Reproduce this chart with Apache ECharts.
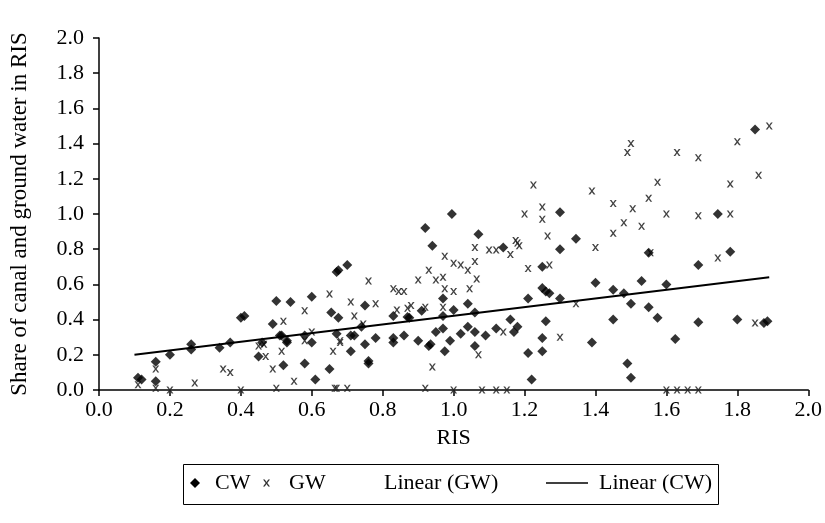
<!DOCTYPE html>
<html>
<head>
<meta charset="utf-8">
<script src="https://cdn.jsdelivr.net/npm/echarts@6/dist/echarts.min.js"></script>
<style>html,body{margin:0;padding:0;background:#fff}#c{width:825px;height:523px}</style>
</head>
<body>
<div id="c"></div>
<script>
// Tick labels
const xTicks = ['0.0','0.2','0.4','0.6','0.8','1.0','1.2','1.4','1.6','1.8','2.0'];
const yTicks = ['0.0','0.2','0.4','0.6','0.8','1.0','1.2','1.4','1.6','1.8','2.0'];

// CW (canal water) points: RIS and share
const cwX = [0.11,0.12,0.16,0.16,0.20,0.26,0.26,0.34,0.37,0.40,0.41,0.45,0.46,0.49,0.50,0.54,0.51,0.52,0.53,0.58,0.60,0.58,0.60,0.61,0.65,0.655,0.67,0.675,0.675,0.67,0.70,0.71,0.72,0.71,0.75,0.75,0.76,0.76,0.78,0.74,0.83,0.87,0.875,0.83,0.83,0.86,0.90,0.93,0.935,0.91,0.92,0.94,0.995,0.95,0.97,0.97,0.97,0.975,0.99,1.00,1.02,1.04,1.04,1.06,1.06,1.06,1.07,1.09,1.12,1.14,1.16,1.17,1.18,1.21,1.21,1.22,1.25,1.25,1.25,1.26,1.27,1.25,1.26,1.30,1.30,1.30,1.345,1.40,1.39,1.45,1.45,1.48,1.49,1.50,1.50,1.53,1.55,1.55,1.575,1.60,1.625,1.69,1.69,1.745,1.78,1.80,1.875,1.885,1.85,0.515,0.53];
const cwY = [0.07,0.06,0.16,0.05,0.20,0.26,0.23,0.24,0.27,0.41,0.42,0.19,0.27,0.375,0.505,0.50,0.31,0.14,0.27,0.15,0.53,0.31,0.27,0.06,0.12,0.44,0.67,0.68,0.41,0.32,0.71,0.31,0.31,0.22,0.26,0.48,0.165,0.15,0.295,0.36,0.42,0.415,0.41,0.295,0.27,0.31,0.28,0.25,0.26,0.45,0.92,0.82,1.00,0.33,0.35,0.52,0.42,0.22,0.28,0.455,0.32,0.36,0.49,0.25,0.33,0.44,0.885,0.31,0.35,0.81,0.40,0.33,0.36,0.52,0.21,0.06,0.295,0.22,0.58,0.56,0.55,0.70,0.39,0.80,1.01,0.52,0.86,0.61,0.27,0.57,0.40,0.55,0.15,0.07,0.49,0.62,0.47,0.78,0.41,0.60,0.29,0.71,0.385,1.00,0.785,0.40,0.38,0.39,1.48,0.31,0.28];

// GW (ground water) points: RIS and share
const gwX = [0.11,0.16,0.16,0.20,0.27,0.35,0.37,0.40,0.45,0.465,0.47,0.49,0.52,0.515,0.50,0.55,0.58,0.58,0.65,0.66,0.68,0.67,0.60,0.72,0.71,0.76,0.78,0.745,0.68,0.83,0.845,0.86,0.88,0.87,0.84,0.92,0.90,0.95,0.97,0.93,0.975,1.00,1.02,1.04,1.06,1.065,1.045,0.975,1.00,0.97,1.06,1.10,1.12,1.16,1.18,1.20,1.25,1.25,1.265,1.21,1.27,1.345,1.30,1.14,1.07,0.94,0.665,0.70,0.92,1.00,1.225,1.39,1.45,1.48,1.45,1.40,1.49,1.175,1.185,1.50,1.63,1.69,1.80,1.89,1.575,1.55,1.505,1.53,1.60,1.69,1.78,1.555,1.745,1.85,1.86,1.78,1.08,1.12,1.15,1.60,1.63,1.66,1.69];
const gwY = [0.03,0.12,0.01,0.00,0.04,0.12,0.10,0.00,0.25,0.26,0.19,0.12,0.39,0.22,0.01,0.05,0.45,0.28,0.545,0.22,0.27,0.01,0.33,0.42,0.50,0.62,0.49,0.375,0.28,0.575,0.56,0.56,0.48,0.465,0.455,0.47,0.625,0.625,0.64,0.68,0.76,0.72,0.71,0.68,0.73,0.63,0.575,0.575,0.56,0.47,0.81,0.795,0.795,0.77,0.835,1.00,1.04,0.97,0.875,0.69,0.71,0.49,0.30,0.33,0.20,0.13,0.01,0.01,0.01,0.00,1.165,1.13,1.06,0.95,0.89,0.81,1.35,0.85,0.82,1.40,1.35,1.32,1.41,1.50,1.18,1.09,1.03,0.93,1.00,0.99,1.00,0.78,0.75,0.38,1.22,1.17,0.00,0.00,0.00,0.00,0.00,0.00,0.00];

// Trend line end points
const cwTrendX = [0.10, 1.89];
const cwTrendY = [0.20, 0.64];

const pairs = (xs, ys) => xs.map((x, i) => [x, ys[i]]);
const font = 'Liberation Serif';
const diamondPath = 'path://M5,0 L10,5 L5,10 L0,5 Z';
const gwPath = 'path://M0,0 L2.5,0 L5,3.5 L7.5,0 L10,0 L6.2,5 L10,10 L7.5,10 L5,6.5 L2.5,10 L0,10 L3.8,5 Z';
const linePath = 'path://M0,0 L40,0 L40,1.6 L0,1.6 Z';
const legText = { fontFamily: font, fontSize: 22, color: '#000' };

function leg(name, left, w, icon, color, textPad) {
  return {
    left: left, top: 472, padding: 0, itemGap: 0,
    itemWidth: w, itemHeight: 12, symbolKeepAspect: true,
    textStyle: Object.assign({ padding: [0, 0, 0, textPad] }, legText),
    data: [{ name: name, icon: icon, itemStyle: { color: color, opacity: 1 } }],
    selectedMode: false
  };
}

const chart = echarts.init(document.getElementById('c'));
chart.setOption({
  animation: false,
  backgroundColor: '#fff',
  grid: { left: 97, right: 15, top: 38, bottom: 133, containLabel: false },
  xAxis: {
    type: 'value', min: 0, max: 2, interval: 0.2,
    name: 'RIS', nameLocation: 'middle', nameGap: 37,
    nameTextStyle: { fontFamily: font, fontSize: 22, color: '#000' },
    axisLine: { lineStyle: { color: '#000', width: 1.5 } },
    axisTick: { show: true, length: 6, lineStyle: { color: '#000', width: 1.5 } },
    axisLabel: { fontFamily: font, fontSize: 22, color: '#000', margin: 9,
      formatter: v => xTicks[Math.round(v / 0.2)] },
    splitLine: { show: false }
  },
  yAxis: {
    type: 'value', min: 0, max: 2, interval: 0.2,
    name: 'Share of canal and ground water in RIS', nameLocation: 'middle', nameGap: 68,
    nameTextStyle: { fontFamily: font, fontSize: 23, color: '#000' },
    axisLine: { show: true, lineStyle: { color: '#000', width: 1.5 } },
    axisTick: { show: true, length: 6, lineStyle: { color: '#000', width: 1.5 } },
    axisLabel: { fontFamily: font, fontSize: 22, color: '#000', margin: 15,
      formatter: v => yTicks[Math.round(v / 0.2)] },
    splitLine: { show: false }
  },
  graphic: [{
    type: 'rect', left: 181, top: 462,
    shape: { width: 535, height: 40 },
    style: { fill: 'none', stroke: '#000', lineWidth: 1 }
  }],
  legend: [
    leg('CW', 190, 10, diamondPath, '#000', 10),
    leg('GW', 263, 7, gwPath, '#333', 14),
    leg('Linear (GW)', 339, 35, 'rect', 'rgba(0,0,0,0)', 5),
    leg('Linear (CW)', 546, 42, linePath, '#000', 6)
  ],
  series: [
    { name: 'GW', type: 'scatter', symbol: gwPath, symbolSize: 7,
      itemStyle: { color: '#222', opacity: 0.85 }, data: pairs(gwX, gwY), z: 2 },
    { name: 'CW', type: 'scatter', symbol: 'diamond', symbolSize: 10,
      itemStyle: { color: '#000' }, data: pairs(cwX, cwY), z: 3 },
    { name: 'Linear (GW)', type: 'line', symbol: 'none', data: [],
      lineStyle: { opacity: 0 }, itemStyle: { color: 'rgba(0,0,0,0)' } },
    { name: 'Linear (CW)', type: 'line', symbol: 'none', z: 4,
      itemStyle: { color: '#000' },
      lineStyle: { color: '#000', width: 2 }, data: pairs(cwTrendX, cwTrendY) }
  ]
});
</script>
</body>
</html>
